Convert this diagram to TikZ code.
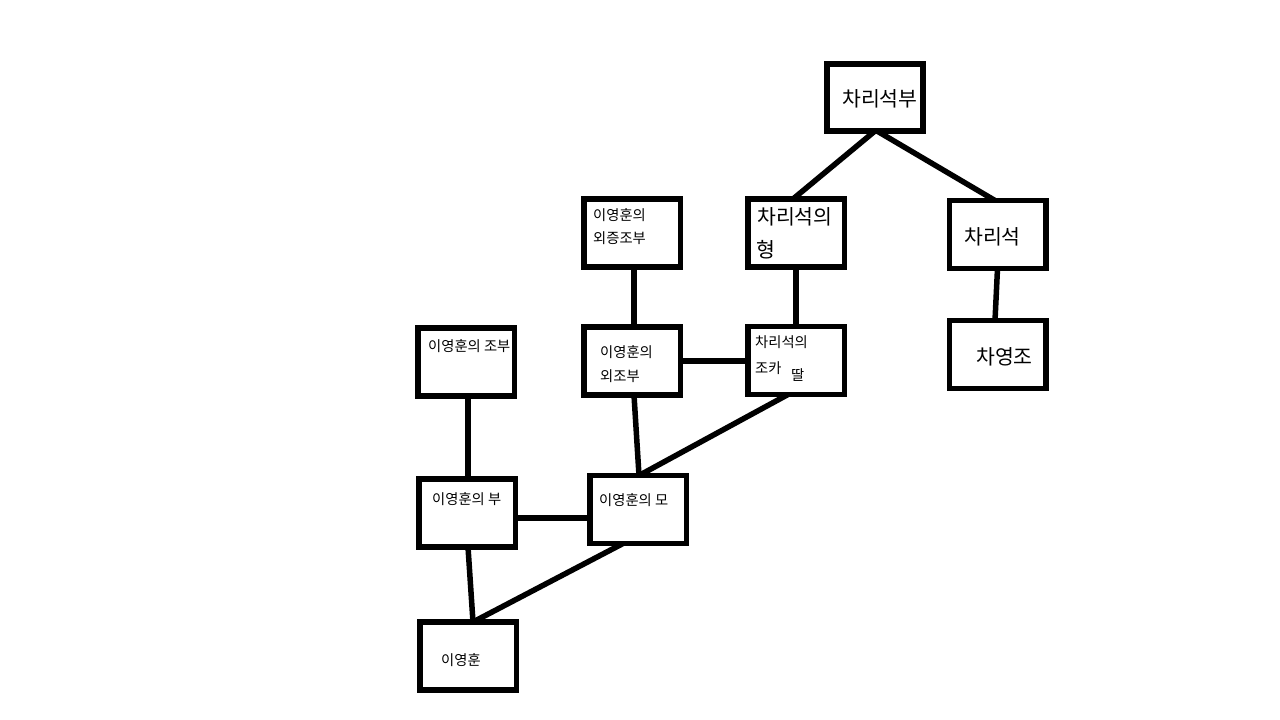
\documentclass[tikz,border=0pt]{standalone}
\usepackage{fontspec}
\setmainfont{Noto Sans CJK KR}
\begin{document}
\begin{tikzpicture}[x=1pt,y=-1pt,
  box/.style={draw=black,line width=5.5pt,minimum width=96.5pt,minimum height=68pt,inner sep=0pt,outer sep=0pt},
  big/.style={anchor=west,inner sep=0pt,font=\fontsize{20.5}{22}\selectfont},
  small/.style={anchor=west,inner sep=0pt,font=\fontsize{14.3}{16}\selectfont},
  link/.style={line width=5.5pt}]
\useasboundingbox[fill=white] (0,0) rectangle (1280,720);
% boxes
\node[box,minimum width=96pt,minimum height=67pt] (A) at (875,97.5) {};
\node[box] (B) at (796,233) {};
\node[box] (C) at (997.5,234.5) {};
\node[box] (D) at (997.5,354.5) {};
\node[box] (E) at (632,233) {};
\node[box] (F) at (632,361) {};
\node[box] (G) at (796,360.5) {};
\node[box] (H) at (466,362) {};
\node[box] (I) at (467,513) {};
\node[box] (J) at (638,509.5) {};
\node[box] (K) at (468,656) {};
% texts
\node[big] (tA) at (842,99) {차리석부};
\node[big] (tB1) at (757,217) {차리석의};
\node[big] (tB2) at (756,250) {형};
\node[big] (tC) at (964,237) {차리석};
\node[big] (tD) at (976,357) {차영조};
\node[small] (tE1) at (593,215) {이영훈의};
\node[small] (tE2) at (593,238) {외증조부};
\node[small] (tF1) at (600,352) {이영훈의};
\node[small] (tF2) at (600,376) {외조부};
\node[small] (tG1) at (755,342) {차리석의};
\node[small] (tG2) at (755,368) {조카};
\node[small] (tG3) at (791,375) {딸};
\node[small] (tH) at (428,346) {이영훈의 조부};
\node[small] (tI) at (432,499) {이영훈의 부};
\node[small] (tJ) at (599,500) {이영훈의 모};
\node[small] (tK) at (441,660) {이영훈};
% connectors
\draw[link] (A.south) -- ([xshift=-3pt]B.north);
\draw[link] ([xshift=2pt]A.south) -- ([xshift=-2.5pt]C.north);
\draw[link] (C.south) -- ([xshift=-2.5pt]D.north);
\draw[link] (B.south) -- (G.north);
\draw[link] ([xshift=2pt]E.south) -- ([xshift=2pt]F.north);
\draw[link] (F.east) -- (F.east -| G.west);
\draw[link] ([xshift=2pt]F.south) -- ([xshift=1pt]J.north);
\draw[link] ([xshift=-8pt]G.south) -- ([xshift=1pt]J.north);
\draw[link] ([xshift=2pt]H.south) -- ([xshift=1pt]I.north);
\draw[link] ([yshift=-5pt]I.east) -- ([yshift=-5pt]I.east -| J.west);
\draw[link] ([xshift=1pt]I.south) -- ([xshift=5pt]K.north);
\draw[link] ([xshift=-15pt]J.south) -- ([xshift=5pt]K.north);
\end{tikzpicture}
\end{document}
